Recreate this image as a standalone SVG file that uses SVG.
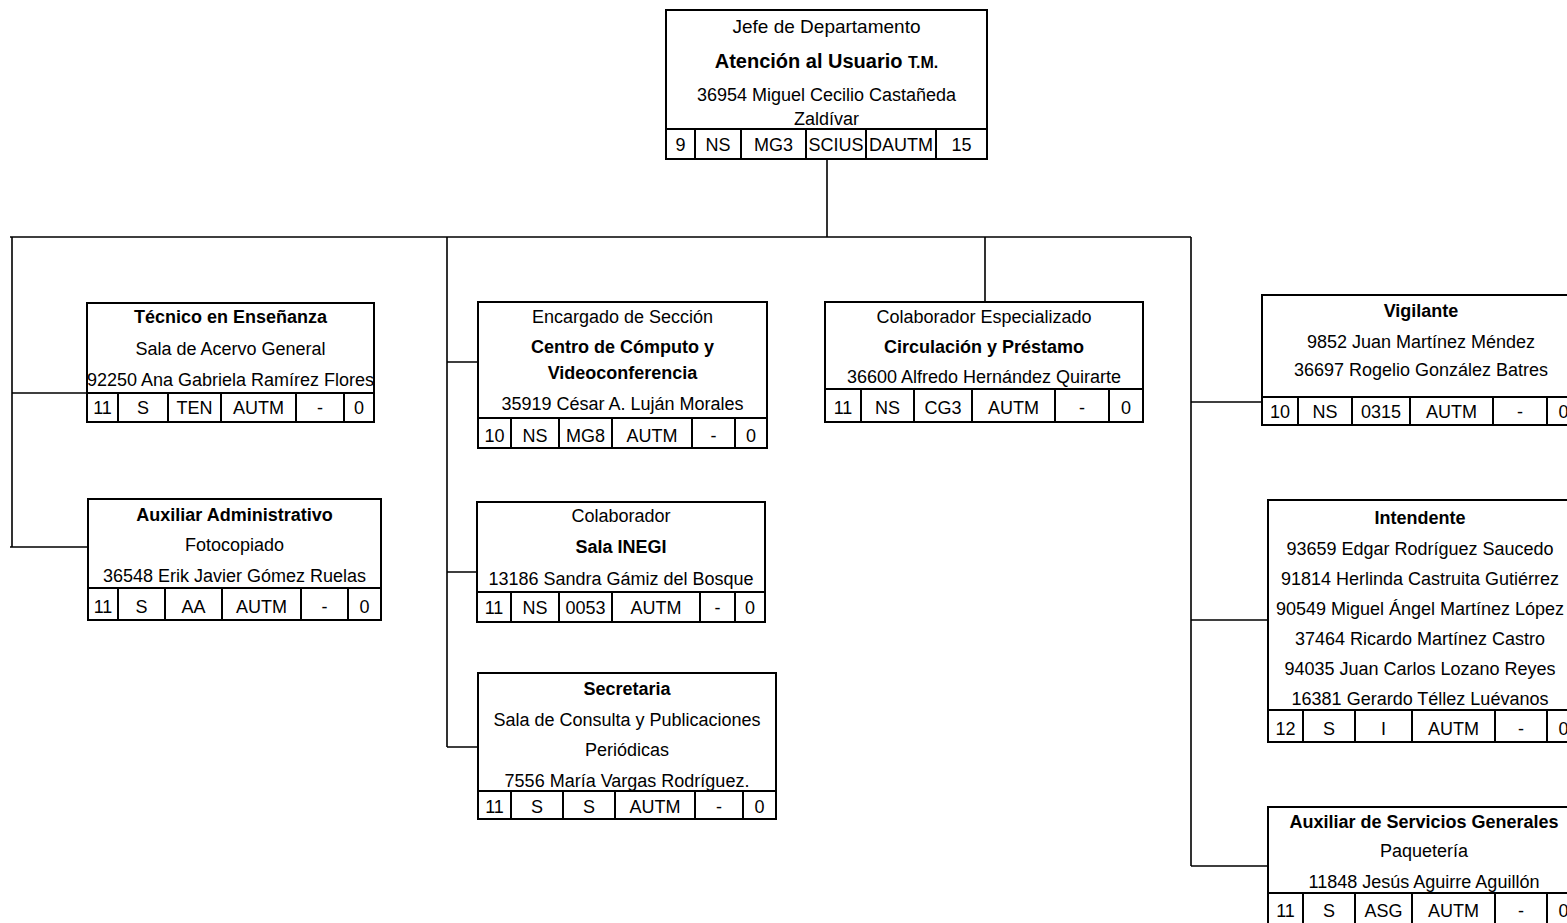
<svg xmlns="http://www.w3.org/2000/svg" width="1567" height="923" viewBox="0 0 1567 923">
<style>
.bx{fill:#fff;stroke:#000;stroke-width:2}
.ln{stroke:#000;stroke-width:2;fill:none}
.cn{stroke:#000;stroke-width:1.6;fill:none}
text{font-family:"Liberation Sans",Arial,sans-serif;font-size:18px;fill:#000;text-anchor:middle}
.b{font-weight:bold}
.t{font-weight:bold;font-size:20px}
.sm{font-size:16px;font-weight:bold}
</style>
<rect width="1567" height="923" fill="#fff"/>
<g id="connectors">
<path class="cn" d="M827 159V237M10 237H1191M12 237V547M447 237V747M985 237V302M1191 237V866"/>
<path class="cn" d="M12 393H87M10 547H88M447 362H478M447 572H477M447 747H478M1191 402H1262M1191 620H1268M1191 866H1268"/>
</g>
<g id="jefe">
<rect class="bx" x="666" y="10" width="321" height="149"/>
<path class="ln" d="M666 129H987M695 129V159M741 129V159M806 129V159M866 129V159M936 129V159"/>
<text x="826.5" y="33" style="font-size:19px">Jefe de Departamento</text>
<text x="826.5" y="68" class="t">Atención al Usuario <tspan class="sm">T.M.</tspan></text>
<text x="826.5" y="101">36954 Miguel Cecilio Castañeda</text>
<text x="826.5" y="125">Zaldívar</text>
<text x="680.5" y="151">9</text><text x="718" y="151">NS</text><text x="773.5" y="151">MG3</text><text x="836" y="151">SCIUS</text><text x="901" y="151">DAUTM</text><text x="961.5" y="151">15</text>
</g>
<g id="tecnico">
<rect class="bx" x="87" y="303" width="287" height="119"/>
<path class="ln" d="M87 393H374M118 393V422M168 393V422M221 393V422M296 393V422M344 393V422"/>
<text x="230.5" y="323" class="b">Técnico en Enseñanza</text>
<text x="230.5" y="355">Sala de Acervo General</text>
<text x="230.5" y="386">92250 Ana Gabriela Ramírez Flores</text>
<text x="102.5" y="414">11</text><text x="143" y="414">S</text><text x="194.5" y="414">TEN</text><text x="258.5" y="414">AUTM</text><text x="320" y="414">-</text><text x="359" y="414">0</text>
</g>
<g id="auxadmin">
<rect class="bx" x="88" y="499" width="293" height="121"/>
<path class="ln" d="M88 588H381M118 588V620M165 588V620M222 588V620M301 588V620M348 588V620"/>
<text x="234.5" y="521" class="b">Auxiliar Administrativo</text>
<text x="234.5" y="551">Fotocopiado</text>
<text x="234.5" y="582">36548 Erik Javier Gómez Ruelas</text>
<text x="103" y="613">11</text><text x="141.5" y="613">S</text><text x="193.5" y="613">AA</text><text x="261.5" y="613">AUTM</text><text x="324.5" y="613">-</text><text x="364.5" y="613">0</text>
</g>
<g id="centro">
<rect class="bx" x="478" y="302" width="289" height="146"/>
<path class="ln" d="M478 418H767M511 418V448M559 418V448M612 418V448M692 418V448M735 418V448"/>
<text x="622.5" y="323">Encargado de Sección</text>
<text x="622.5" y="353" class="b">Centro de Cómputo y</text>
<text x="622.5" y="379" class="b">Videoconferencia</text>
<text x="622.5" y="410">35919 César A. Luján Morales</text>
<text x="494.5" y="442">10</text><text x="535" y="442">NS</text><text x="585.5" y="442">MG8</text><text x="652" y="442">AUTM</text><text x="713.5" y="442">-</text><text x="751" y="442">0</text>
</g>
<g id="colaborador">
<rect class="bx" x="477" y="502" width="288" height="120"/>
<path class="ln" d="M477 592H765M511 592V622M559 592V622M612 592V622M700 592V622M735 592V622"/>
<text x="621" y="522">Colaborador</text>
<text x="621" y="553" class="b">Sala INEGI</text>
<text x="621" y="585">13186 Sandra Gámiz del Bosque</text>
<text x="494" y="614">11</text><text x="535" y="614">NS</text><text x="585.5" y="614">0053</text><text x="656" y="614">AUTM</text><text x="717.5" y="614">-</text><text x="750" y="614">0</text>
</g>
<g id="secretaria">
<rect class="bx" x="478" y="673" width="298" height="146"/>
<path class="ln" d="M478 791H776M511 791V819M563 791V819M615 791V819M695 791V819M743 791V819"/>
<text x="627" y="695" class="b">Secretaria</text>
<text x="627" y="726">Sala de Consulta y Publicaciones</text>
<text x="627" y="756">Periódicas</text>
<text x="627" y="787">7556 María Vargas Rodríguez.</text>
<text x="494.5" y="813">11</text><text x="537" y="813">S</text><text x="589" y="813">S</text><text x="655" y="813">AUTM</text><text x="719" y="813">-</text><text x="759.5" y="813">0</text>
</g>
<g id="colabesp">
<rect class="bx" x="825" y="302" width="318" height="120"/>
<path class="ln" d="M825 389H1143M861 389V422M914 389V422M972 389V422M1055 389V422M1109 389V422"/>
<text x="984" y="323">Colaborador Especializado</text>
<text x="984" y="353" class="b">Circulación y Préstamo</text>
<text x="984" y="383">36600 Alfredo Hernández Quirarte</text>
<text x="843" y="414">11</text><text x="887.5" y="414">NS</text><text x="943" y="414">CG3</text><text x="1013.5" y="414">AUTM</text><text x="1082" y="414">-</text><text x="1126" y="414">0</text>
</g>
<g id="vigilante">
<rect class="bx" x="1262" y="295" width="318" height="130"/>
<path class="ln" d="M1262 397H1580M1298 397V425M1352 397V425M1410 397V425M1493 397V425M1547 397V425"/>
<text x="1421" y="317" class="b">Vigilante</text>
<text x="1421" y="348">9852 Juan Martínez Méndez</text>
<text x="1421" y="376">36697 Rogelio González Batres</text>
<text x="1280" y="418">10</text><text x="1325" y="418">NS</text><text x="1381" y="418">0315</text><text x="1451.5" y="418">AUTM</text><text x="1520" y="418">-</text><text x="1563.5" y="418">0</text>
</g>
<g id="intendente">
<rect class="bx" x="1268" y="500" width="312" height="242"/>
<path class="ln" d="M1268 710H1580M1303 710V742M1355 710V742M1412 710V742M1495 710V742M1547 710V742"/>
<text x="1420" y="524" class="b">Intendente</text>
<text x="1420" y="555">93659 Edgar Rodríguez Saucedo</text>
<text x="1420" y="585">91814 Herlinda Castruita Gutiérrez</text>
<text x="1420" y="615">90549 Miguel Ángel Martínez López</text>
<text x="1420" y="645">37464 Ricardo Martínez Castro</text>
<text x="1420" y="675">94035 Juan Carlos Lozano Reyes</text>
<text x="1420" y="705">16381 Gerardo Téllez Luévanos</text>
<text x="1285.5" y="735">12</text><text x="1329" y="735">S</text><text x="1383.5" y="735">I</text><text x="1453.5" y="735">AUTM</text><text x="1521" y="735">-</text><text x="1563.5" y="735">0</text>
</g>
<g id="auxservicios">
<rect class="bx" x="1268" y="807" width="312" height="125"/>
<path class="ln" d="M1268 893H1580M1303 893V932M1355 893V932M1412 893V932M1495 893V932M1547 893V932"/>
<text x="1424" y="828" class="b">Auxiliar de Servicios Generales</text>
<text x="1424" y="857">Paquetería</text>
<text x="1424" y="888">11848 Jesús Aguirre Aguillón</text>
<text x="1285.5" y="917">11</text><text x="1329" y="917">S</text><text x="1383.5" y="917">ASG</text><text x="1453.5" y="917">AUTM</text><text x="1521" y="917">-</text><text x="1563.5" y="917">0</text>
</g>
</svg>
